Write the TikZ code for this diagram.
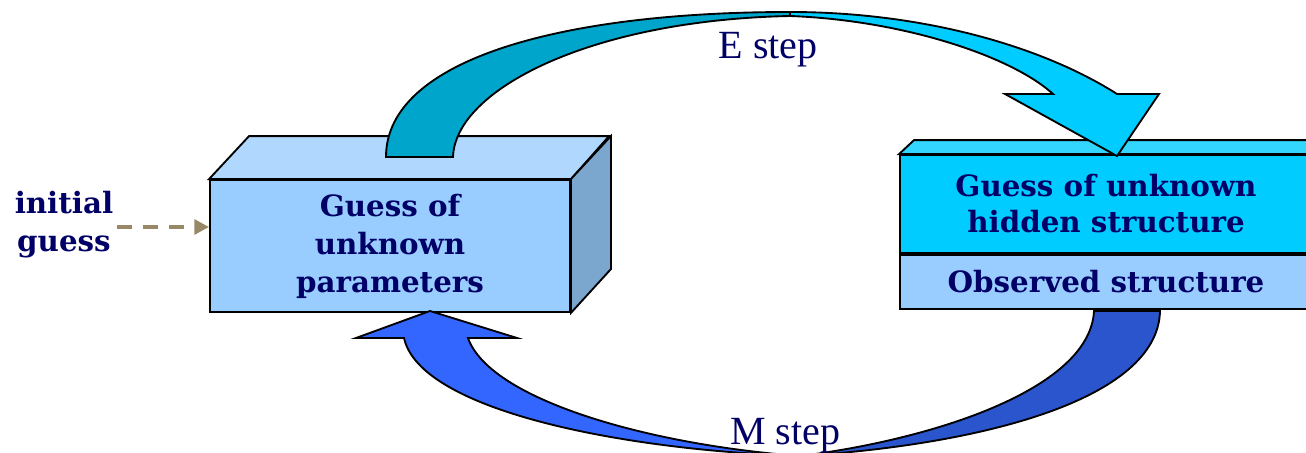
\documentclass[tikz,border=0pt]{standalone}
\usepackage{fontspec}
\setmainfont{Liberation Serif}
\newfontfamily\boldlbl{DejaVu Serif}
\usetikzlibrary{arrows.meta}
\definecolor{navy}{HTML}{000066}
\definecolor{frontblue}{HTML}{99CCFF}
\definecolor{topblue}{HTML}{B0D8FF}
\definecolor{sideblue}{HTML}{7BA7CF}
\definecolor{cyanfront}{HTML}{00CCFF}
\definecolor{cyantop}{HTML}{33D6FF}
\definecolor{eteal}{HTML}{00A5CC}
\definecolor{ecyan}{HTML}{00CCFF}
\definecolor{mlight}{HTML}{3366FF}
\definecolor{mdark}{HTML}{2A55CC}
\definecolor{tan}{HTML}{998866}
\tikzset{
  face/.style={draw=black, line width=1.4pt, line join=miter},
  ribbon/.style={draw=black, line width=1.4pt, line join=miter},
  lbl/.style={text=navy, font=\boldlbl\bfseries\fontsize{22}{28.5}\selectfont, align=center, inner sep=0pt},
  steplbl/.style={text=navy, font=\fontsize{30}{32}\selectfont, inner sep=0pt},
}
\begin{document}
\begin{tikzpicture}[x=0.75pt,y=-0.75pt]
\useasboundingbox (0,0) rectangle (1306,453);
\clip (0,0) rectangle (1306,453);

% left box
\node[face, fill=frontblue, minimum width=270pt, minimum height=99pt, inner sep=0pt] (pbox) at (390,246) {};
\path[face, fill=topblue] (pbox.north west) -- ++(40,-43) -- ++(360,0) -- (pbox.north east) -- cycle;
\path[face, fill=sideblue] (pbox.north east) -- ++(40,-43) -- ++(0,133) -- (pbox.south east) -- cycle;
\node[lbl] (ptext) at (pbox.center) {Guess of\\unknown\\parameters};

% right box
\node[face, fill=cyanfront, minimum width=309pt, minimum height=73.5pt, inner sep=0pt] (hbox) at (1106,204) {};
\node[face, fill=frontblue, minimum width=309pt, minimum height=40.5pt, inner sep=0pt, anchor=north] (obox) at (hbox.south) {};
\path[face, fill=cyantop] (hbox.north west) -- ++(15,-14) -- ++(412,0) -- (hbox.north east) -- cycle;
\node[lbl, font=\boldlbl\bfseries\fontsize{22}{27}\selectfont] (htext) at (hbox.center) {Guess of unknown\\hidden structure};
\node[lbl] (otext) at (obox.center) {Observed structure};

% initial guess
\node[lbl] (ig) at (64,225) {initial\\guess};
\draw[tan, line width=3pt, dash pattern=on 11.25pt off 8.25pt, -{Triangle[length=11pt,width=11pt]}] (ig.east) ++(4,2) coordinate (igs) -- (pbox.west |- igs);

% E step ribbon
\coordinate (ebase) at (386,157);
\coordinate (etip) at (1117,156);
\path[ribbon, fill=eteal] (ebase) .. controls (386,60) and (560,12) .. (790,12)
  -- (790,16) .. controls (590,20) and (455,90) .. (453,157) -- cycle;
\path[ribbon, fill=ecyan] (790,12) .. controls (920,12) and (1040,45) .. (1117,94)
  -- (1159,94) -- (etip) -- (1005,94) -- (1053,94)
  .. controls (1010,55) and (900,20) .. (790,16) -- cycle;
\node[steplbl] (estep) at (768,50) {E step};

% M step ribbon
\coordinate (mtip) at (430,311);
\path[ribbon, fill=mdark] (1094,311) -- (1160,311) .. controls (1158,400) and (980,445) .. (800,456)
  .. controls (930,440) and (1090,390) .. (1094,311) -- cycle;
\path[ribbon, fill=mlight] (800,456) .. controls (620,450) and (420,410) .. (404,338)
  -- (356,338) -- (mtip) -- (517,338) -- (468,338)
  .. controls (490,400) and (650,445) .. (800,456) -- cycle;
\node[steplbl] (mstep) at (785,436) {M step};
\end{tikzpicture}
\end{document}
